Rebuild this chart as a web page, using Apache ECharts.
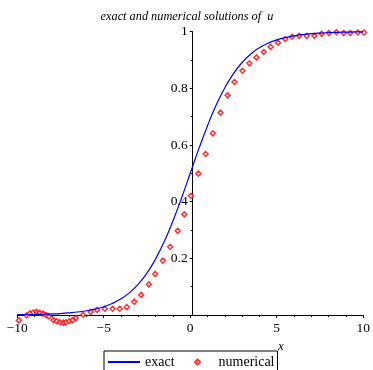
<!DOCTYPE html>
<html>
<head>
<meta charset="utf-8">
<script src="https://cdn.jsdelivr.net/npm/echarts@6/dist/echarts.min.js"></script>
<style>
  html, body { margin: 0; padding: 0; background: #fff; }
  #chart { width: 373px; height: 370px; }
</style>
</head>
<body>
<div id="chart"></div>
<script>
// exact solution
const exactX = [-10, -9.5, -9, -8.5, -8, -7.5, -7, -6.5, -6, -5.5, -5, -4.5, -4, -3.5, -3, -2.5, -2, -1.5, -1, -0.5,
  0, 0.5, 1, 1.5, 2, 2.5, 3, 3.5, 4, 4.5, 5, 5.5, 6, 6.5, 7, 7.5, 8, 8.5, 9, 9.5, 10]
const exactU = [0.001, 0.0013, 0.0018, 0.0026, 0.0037, 0.0052, 0.0075, 0.0105, 0.015, 0.021, 0.029, 0.041, 0.057, 0.079, 0.109, 0.148, 0.198, 0.259, 0.332, 0.413,
  0.5, 0.587, 0.668, 0.741, 0.802, 0.852, 0.891, 0.921, 0.943, 0.959, 0.971, 0.979, 0.985, 0.9895, 0.9926, 0.9948, 0.9963, 0.9974, 0.9982, 0.9987, 0.999]

// numerical solution, red diamonds
const numX = [-9.90, -9.46, -9.27, -9.08, -8.89, -8.70, -8.51, -8.32, -8.17, -7.90, -7.71, -7.52, -7.33, -7.18, -6.99, -6.80, -6.61,
  -6.19, -5.75, -5.38, -4.94, -4.48, -4.07, -3.67, -3.23, -2.83, -2.39, -2.02, -1.58, -1.16, -0.72, -0.34,
  0.04, 0.47, 0.89, 1.31, 1.75, 2.16, 2.56, 3.02, 3.42, 3.83, 4.25, 4.65, 5.07, 5.49, 5.89, 6.30, 6.74, 7.18, 7.60, 8.01, 8.45, 8.87, 9.25, 9.69, 10.05]
const numU = [-0.019, -0.001, 0.006, 0.009, 0.011, 0.008, 0.005, 0.000, -0.005, -0.018, -0.022, -0.026, -0.027, -0.026, -0.022, -0.018, -0.011,
  0.001, 0.011, 0.018, 0.022, 0.022, 0.022, 0.028, 0.047, 0.071, 0.108, 0.145, 0.192, 0.241, 0.297, 0.355,
  0.421, 0.499, 0.568, 0.641, 0.714, 0.775, 0.822, 0.862, 0.888, 0.909, 0.928, 0.946, 0.961, 0.974, 0.982, 0.985, 0.985, 0.985, 0.992, 0.995, 0.998, 0.995, 0.995, 0.997, 0.997]

const xTicks = [-10, -5, 0, 5, 10]
const yTicks = [0.2, 0.4, 0.6, 0.8, 1]

const serif = '"Liberation Serif", "DejaVu Serif", serif'
const fmt = v => String(v).replace('-', '\u2212')

const chart = echarts.init(document.getElementById('chart'))

const option = {
  animation: false,
  grid: { left: 17.2, right: 4.7, top: 31.6, bottom: 55 },
  graphic: [
    {
      type: 'text', x: 187, y: 17,
      style: { text: 'exact and numerical solutions of  u', font: 'italic 12.3px ' + serif, fill: '#000', align: 'center', verticalAlign: 'middle' }
    },
    {
      type: 'text', x: 278, y: 340,
      style: { text: 'x', font: 'italic 13px ' + serif, fill: '#000' }
    }
  ],
  xAxis: {
    type: 'value', min: -10, max: 10, interval: 5,
    splitLine: { show: false },
    axisLine: { onZero: false, lineStyle: { color: '#000', width: 1 } },
    axisTick: { length: 3, lineStyle: { color: '#000' } },
    minorTick: { show: true, splitNumber: 5, length: 2, lineStyle: { color: '#000' } },
    axisLabel: {
      margin: 6, fontFamily: serif, fontSize: 13.5, color: '#000',
      formatter: v => xTicks.includes(v) ? fmt(v) : ''
    }
  },
  yAxis: {
    type: 'value', min: 0, max: 1, interval: 0.2,
    position: 'left',
    offset: -175.5, // y axis sits at x = 0
    splitLine: { show: false },
    axisLine: { onZero: false, lineStyle: { color: '#000', width: 1 } },
    axisTick: { length: 3, lineStyle: { color: '#000' } },
    minorTick: { show: true, splitNumber: 2, length: 2, lineStyle: { color: '#000' } },
    axisLabel: {
      margin: 5, fontFamily: serif, fontSize: 13.5, color: '#000',
      formatter: v => yTicks.some(t => Math.abs(t - v) < 1e-9) ? String(+v.toFixed(1)) : ''
    }
  },
  legend: {
    left: 104, top: 351,
    padding: [4, 3, 10, 3],
    itemGap: 6, itemWidth: 32, itemHeight: 6,
    borderColor: '#000', borderWidth: 1,
    textStyle: { fontFamily: serif, fontSize: 14, color: '#000' },
    data: [
      { name: 'exact', itemStyle: { opacity: 0 } },
      { name: 'numerical', icon: 'path://M0,0M32,6M16,0.5L18.5,3L16,5.5L13.5,3Z' }
    ]
  },
  series: [
    {
      name: 'exact', type: 'line', smooth: true, symbol: 'none',
      lineStyle: { color: '#0000ff', width: 1.2 },
      itemStyle: { color: '#0000ff' },
      data: exactX.map((x, i) => [x, exactU[i]])
    },
    {
      name: 'numerical', type: 'scatter', symbol: 'diamond', symbolSize: 5, clip: false,
      itemStyle: { color: '#fff', borderColor: '#ff0000', borderWidth: 1.5 },
      data: numX.map((x, i) => [x, numU[i]])
    }
  ]
}

chart.setOption(option)
</script>
</body>
</html>
